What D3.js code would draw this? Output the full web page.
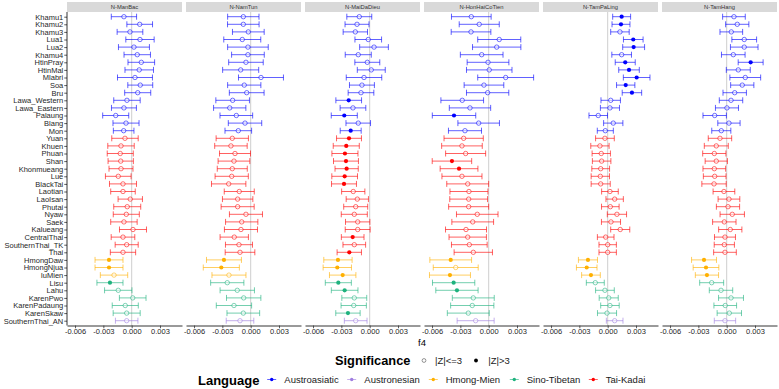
<!DOCTYPE html>
<html><head><meta charset="utf-8">
<script src="https://cdn.jsdelivr.net/npm/d3@7"></script>
<style>body{margin:0;background:#fff}svg{display:block;font-family:"Liberation Sans",Arial,Helvetica,sans-serif}</style>
</head><body><svg id="c" width="779" height="389"></svg>
<script>
const populations = ["Khamu1","Khamu2","Khamu3","Lua1","Lua2","Khamu4","HtinPray","HtinMal","Mlabri","Soa","Bru","Lawa_Western","Lawa_Eastern","Palaung","Blang","Mon",
"Yuan","Khuen","Phuan","Shan","Khonmueang","Lue","BlackTai","Laotian","LaoIsan","Phutai","Nyaw","Saek","Kalueang","CentralThai","SouthernThai_TK","Thai",
"HmongDaw","HmongNjua","IuMien","Lisu","Lahu","KarenPwo","KarenPadaung","KarenSkaw","SouthernThai_AN"];
const languageOf = ["Austroasiatic","Austroasiatic","Austroasiatic","Austroasiatic","Austroasiatic","Austroasiatic","Austroasiatic","Austroasiatic","Austroasiatic","Austroasiatic","Austroasiatic","Austroasiatic","Austroasiatic","Austroasiatic","Austroasiatic","Austroasiatic",
"Tai-Kadai","Tai-Kadai","Tai-Kadai","Tai-Kadai","Tai-Kadai","Tai-Kadai","Tai-Kadai","Tai-Kadai","Tai-Kadai","Tai-Kadai","Tai-Kadai","Tai-Kadai","Tai-Kadai","Tai-Kadai","Tai-Kadai","Tai-Kadai",
"Hmong-Mien","Hmong-Mien","Hmong-Mien","Sino-Tibetan","Sino-Tibetan","Sino-Tibetan","Sino-Tibetan","Sino-Tibetan","Austronesian"];
const languages = ["Austroasiatic","Austronesian","Hmong-Mien","Sino-Tibetan","Tai-Kadai"];
const languageColors = ["#0000FF","#A07EE0","#FFB000","#1FB27E","#FF0000"];
const panels = ["N-ManBac","N-NamTun","N-MaiDaDieu","N-HonHaiCoTien","N-TamPaLing","N-TamHang"];
const xTicks = [-0.006,-0.003,0,0.003];

const f4_ManBac = [-0.00082,0.00085,-0.00018,0.00088,0.00024,0.00059,0.00102,0.00080,0.00035,0.00091,0.00064,-0.00050,-0.00082,-0.00169,-0.00060,-0.00085,-0.00071,-0.00113,-0.00121,-0.00116,-0.00113,-0.00142,-0.00092,-0.00092,-0.00015,-0.00047,-0.00057,-0.00082,0.00014,-0.00092,-0.00053,-0.00092,-0.00240,-0.00240,-0.00187,-0.00230,-0.00142,0.00011,-0.00068,-0.00053,-0.00053];
const err_ManBac = [0.00134,0.00136,0.00136,0.00150,0.00164,0.00140,0.00141,0.00151,0.00185,0.00132,0.00138,0.00140,0.00132,0.00138,0.00138,0.00109,0.00140,0.00140,0.00138,0.00134,0.00127,0.00136,0.00143,0.00130,0.00129,0.00143,0.00138,0.00140,0.00143,0.00125,0.00122,0.00134,0.00148,0.00148,0.00145,0.00138,0.00145,0.00141,0.00138,0.00143,0.00119];
const sig_ManBac = ["HmongDaw","HmongNjua","Lisu"];

const f4_NamTun = [-0.00078,-0.00078,-0.00025,-0.00089,-0.00029,-0.00029,-0.00050,-0.00106,0.00109,-0.00068,-0.00042,-0.00191,-0.00222,-0.00152,-0.00060,-0.00131,-0.00195,-0.00209,-0.00166,-0.00177,-0.00195,-0.00201,-0.00233,-0.00121,-0.00138,-0.00138,-0.00050,-0.00095,-0.00103,-0.00174,-0.00124,-0.00113,-0.00283,-0.00311,-0.00230,-0.00248,-0.00142,-0.00074,-0.00177,-0.00078,-0.00113];
const err_NamTun = [0.00166,0.00167,0.00168,0.00196,0.00215,0.00173,0.00183,0.00191,0.00238,0.00176,0.00184,0.00178,0.00171,0.00173,0.00177,0.00141,0.00171,0.00172,0.00164,0.00168,0.00159,0.00176,0.00182,0.00159,0.00161,0.00175,0.00175,0.00171,0.00175,0.00150,0.00143,0.00157,0.00185,0.00191,0.00180,0.00176,0.00182,0.00182,0.00187,0.00173,0.00146];
const sig_NamTun = ["HmongDaw","HmongNjua"];

const f4_MaiDaDieu = [-0.00110,-0.00134,-0.00152,-0.00015,0.00046,-0.00121,-0.00025,0.00017,-0.00060,-0.00082,-0.00092,-0.00222,-0.00177,-0.00269,-0.00121,-0.00201,-0.00219,-0.00248,-0.00262,-0.00251,-0.00244,-0.00265,-0.00272,-0.00174,-0.00131,-0.00148,-0.00163,-0.00127,-0.00127,-0.00180,-0.00163,-0.00216,-0.00336,-0.00343,-0.00286,-0.00332,-0.00265,-0.00163,-0.00169,-0.00230,-0.00148];
const err_MaiDaDieu = [0.00132,0.00127,0.00129,0.00141,0.00152,0.00138,0.00132,0.00148,0.00188,0.00132,0.00136,0.00136,0.00136,0.00138,0.00130,0.00111,0.00132,0.00138,0.00138,0.00132,0.00123,0.00136,0.00132,0.00123,0.00118,0.00127,0.00138,0.00129,0.00132,0.00120,0.00120,0.00129,0.00150,0.00150,0.00140,0.00138,0.00141,0.00132,0.00134,0.00129,0.00120];
const sig_MaiDaDieu = ["Lawa_Western","Palaung","Mon","Yuan","Khuen","Phuan","Shan","Khonmueang","Lue","BlackTai","CentralThai","Thai","HmongDaw","HmongNjua","IuMien","Lisu","Lahu","KarenSkaw"];

const f4_HonHaiCoTien = [-0.00184,-0.00100,-0.00187,0.00112,0.00085,-0.00074,-0.00007,0.00006,0.00180,-0.00050,-0.00011,-0.00280,-0.00198,-0.00367,-0.00106,-0.00251,-0.00265,-0.00283,-0.00244,-0.00389,-0.00314,-0.00283,-0.00222,-0.00209,-0.00212,-0.00212,-0.00121,-0.00169,-0.00240,-0.00222,-0.00205,-0.00163,-0.00402,-0.00349,-0.00410,-0.00371,-0.00336,-0.00163,-0.00174,-0.00216,-0.00138];
const err_HonHaiCoTien = [0.00210,0.00212,0.00210,0.00228,0.00256,0.00226,0.00221,0.00241,0.00296,0.00210,0.00224,0.00226,0.00219,0.00230,0.00220,0.00175,0.00208,0.00215,0.00212,0.00209,0.00200,0.00212,0.00222,0.00201,0.00200,0.00212,0.00220,0.00221,0.00217,0.00198,0.00189,0.00203,0.00221,0.00238,0.00217,0.00224,0.00224,0.00222,0.00229,0.00222,0.00196];
const sig_HonHaiCoTien = ["Palaung","Shan","Khonmueang","HmongDaw","IuMien","Lisu","Lahu"];

const f4_TamPaLing = [0.00148,0.00141,0.00130,0.00271,0.00275,0.00148,0.00186,0.00226,0.00307,0.00191,0.00257,0.00032,0.00024,-0.00100,0.00059,-0.00025,-0.00029,-0.00082,-0.00068,-0.00064,-0.00074,-0.00078,-0.00074,0.00024,0.00074,0.00028,0.00098,0.00035,0.00133,-0.00021,0.00000,0.00000,-0.00209,-0.00222,-0.00177,-0.00131,-0.00029,0.00011,0.00024,-0.00007,0.00074];
const err_TamPaLing = [0.00095,0.00095,0.00098,0.00104,0.00116,0.00104,0.00106,0.00109,0.00141,0.00097,0.00103,0.00103,0.00101,0.00098,0.00102,0.00085,0.00099,0.00097,0.00097,0.00098,0.00094,0.00097,0.00101,0.00088,0.00092,0.00093,0.00102,0.00101,0.00101,0.00088,0.00092,0.00092,0.00101,0.00109,0.00099,0.00095,0.00099,0.00101,0.00098,0.00101,0.00088];
const sig_TamPaLing = ["Khamu1","Khamu2","Lua1","Lua2","HtinPray","HtinMal","Mlabri","Soa","Bru","HmongDaw","HmongNjua","IuMien"];

const f4_TamHang = [0.00077,0.00112,0.00049,0.00186,0.00186,0.00070,0.00254,0.00123,0.00197,0.00165,0.00085,0.00046,0.00003,-0.00127,0.00024,-0.00057,-0.00071,-0.00110,-0.00131,-0.00110,-0.00131,-0.00127,-0.00134,-0.00029,0.00024,0.00014,0.00059,-0.00025,0.00038,-0.00018,-0.00025,-0.00018,-0.00240,-0.00219,-0.00209,-0.00159,-0.00060,0.00046,-0.00015,0.00028,-0.00018];
const err_TamHang = [0.00120,0.00123,0.00120,0.00131,0.00146,0.00125,0.00132,0.00127,0.00163,0.00123,0.00124,0.00124,0.00122,0.00124,0.00118,0.00101,0.00124,0.00127,0.00123,0.00118,0.00120,0.00120,0.00129,0.00115,0.00115,0.00123,0.00129,0.00124,0.00123,0.00111,0.00107,0.00120,0.00132,0.00136,0.00123,0.00127,0.00124,0.00132,0.00120,0.00129,0.00113];
const sig_TamHang = ["HtinPray","HmongDaw","HmongNjua","IuMien"];

const panelF4 = [f4_ManBac,f4_NamTun,f4_MaiDaDieu,f4_HonHaiCoTien,f4_TamPaLing,f4_TamHang];
const panelErr = [err_ManBac,err_NamTun,err_MaiDaDieu,err_HonHaiCoTien,err_TamPaLing,err_TamHang];
const panelSig = [sig_ManBac,sig_NamTun,sig_MaiDaDieu,sig_HonHaiCoTien,sig_TamPaLing,sig_TamHang];

const svg = d3.select("#c");
const color = d3.scaleOrdinal().domain(languages).range(languageColors);
const fmt = d3.formatLocale({decimal:".",thousands:",",grouping:[3],currency:["$",""],minus:"-"}).format(".3f");

const plotLeft = 67, panelW = 115, panelGap = 4, plotTop = 12, plotBottom = 325.5;
const y = d3.scalePoint().domain(populations).range([16.7, 320.7]);
const BAR_OP = 0.62;
const TEXT_COL = "#1f1f1f";

panels.forEach((name, p) => {
  const x0 = plotLeft + p * (panelW + panelGap);
  const x = d3.scaleLinear().domain([-0.00685, 0.00533]).range([x0, x0 + panelW]);
  const g = svg.append("g");
  g.append("rect").attr("x", x0).attr("y", 2).attr("width", panelW).attr("height", 10).attr("fill", "#d9d9d9");
  g.append("text").attr("x", x0 + panelW / 2).attr("y", 7.2).attr("text-anchor", "middle")
    .attr("dominant-baseline", "central").attr("font-size", 5.8).attr("fill", "#333").text(name);
  g.append("line").attr("x1", x(0)).attr("x2", x(0)).attr("y1", plotTop).attr("y2", plotBottom)
    .attr("stroke", "#c8c8c8").attr("stroke-width", 0.9);

  const rows = populations.map((pop, i) => ({
    pop, lang: languageOf[i], v: panelF4[p][i], e: panelErr[p][i], sig: panelSig[p].includes(pop)
  }));
  const r = g.selectAll("g.row").data(rows).join("g").attr("class", "row");
  r.append("path")
    .attr("d", d => {
      const yy = y(d.pop), a = x(d.v - d.e), b = x(d.v + d.e), h = 3;
      return `M${a},${yy}H${b}M${a},${yy - h}V${yy + h}M${b},${yy - h}V${yy + h}`;
    })
    .attr("fill", "none").attr("stroke", d => color(d.lang)).attr("stroke-opacity", BAR_OP).attr("stroke-width", 1);
  r.filter(d => !d.sig).append("circle")
    .attr("cx", d => x(d.v)).attr("cy", d => y(d.pop)).attr("r", 2.2)
    .attr("fill", "white").attr("fill-opacity", 0.5).attr("stroke", d => color(d.lang)).attr("stroke-opacity", BAR_OP).attr("stroke-width", 0.9);
  r.filter(d => d.sig).append("circle")
    .attr("cx", d => x(d.v)).attr("cy", d => y(d.pop)).attr("r", 2.1)
    .attr("fill", d => color(d.lang));

  const ax = g.append("g").attr("transform", `translate(0,${plotBottom})`)
    .call(d3.axisBottom(x).tickValues(xTicks).tickFormat(fmt).tickSize(2.75).tickSizeOuter(0).tickPadding(0.5));
  ax.select(".domain").attr("stroke", "#000").attr("stroke-width", 0.8);
  ax.selectAll(".tick line").attr("stroke", "#333").attr("stroke-width", 0.8);
  ax.selectAll("text").attr("font-size", 7.5).attr("fill", TEXT_COL).attr("font-family", null);

  if (p === 0) {
    const ay = g.append("g").attr("transform", `translate(${x0},0)`)
      .call(d3.axisLeft(y).tickSize(2.75).tickSizeOuter(0).tickPadding(1));
    ay.select(".domain").remove();
    ay.append("line").attr("x1", 0).attr("x2", 0).attr("y1", plotTop).attr("y2", plotBottom).attr("stroke", "#000").attr("stroke-width", 0.8);
    ay.selectAll(".tick line").attr("stroke", "#333").attr("stroke-width", 0.8);
    ay.selectAll("text").attr("font-size", 7.5).attr("fill", TEXT_COL).attr("font-family", null);
  }
});

// axis title
svg.append("text").attr("x", 422).attr("y", 346).attr("text-anchor", "middle").attr("font-size", 9.5).attr("fill", "#000").text("f4");

// Significance legend
svg.append("text").attr("x", 335).attr("y", 365).attr("font-size", 12.8).attr("font-weight", "bold").attr("fill", "#000").text("Significance");
const sigKeys = [{label: "|Z|<=3", cx: 424, tx: 435, filled: false}, {label: "|Z|>3", cx: 476, tx: 488.3, filled: true}];
sigKeys.forEach(k => {
  svg.append("circle").attr("cx", k.cx).attr("cy", 360.5).attr("r", 1.9)
    .attr("fill", k.filled ? "#000" : "none").attr("stroke", k.filled ? "none" : "#666").attr("stroke-width", 0.7);
  svg.append("text").attr("x", k.tx).attr("y", 364).attr("font-size", 9.5).attr("fill", "#1a1a1a").text(k.label);
});

// Language legend
svg.append("text").attr("x", 198).attr("y", 384.8).attr("font-size", 13).attr("font-weight", "bold").attr("fill", "#000").text("Language");
const langKeyX = [271.7, 351.7, 433.3, 514.3, 593.3];
const langTextX = [284.3, 364.3, 445.7, 526.7, 605.7];
languages.forEach((l, i) => {
  const cx = langKeyX[i];
  svg.append("line").attr("x1", cx - 4.5).attr("x2", cx + 4.5).attr("y1", 379.5).attr("y2", 379.5)
    .attr("stroke", color(l)).attr("stroke-opacity", BAR_OP).attr("stroke-width", 1);
  svg.append("circle").attr("cx", cx).attr("cy", 379.5).attr("r", 1.7).attr("fill", color(l));
  svg.append("text").attr("x", langTextX[i]).attr("y", 383).attr("font-size", 9.5).attr("fill", "#1a1a1a").text(l);
});
</script></body></html>
